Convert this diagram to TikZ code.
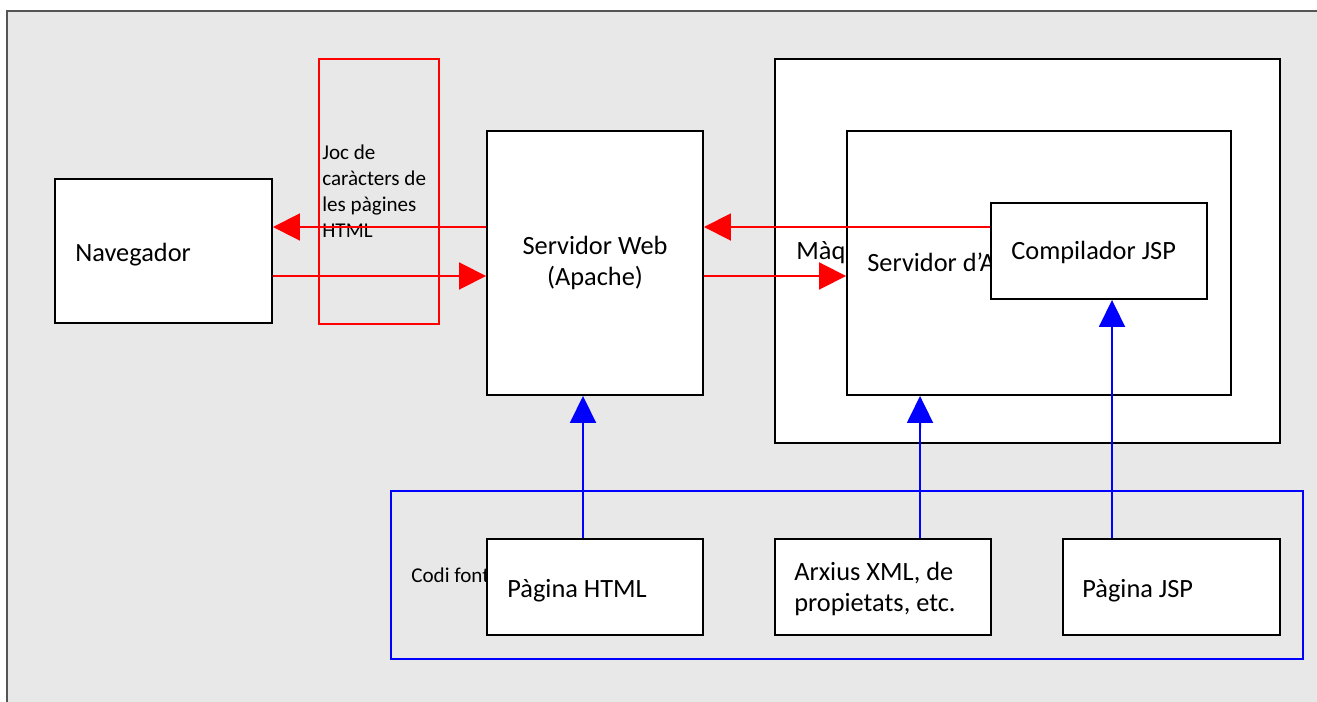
\documentclass[tikz,border=0pt]{standalone}
\usepackage{fontspec}
\setmainfont{Carlito}
\usetikzlibrary{arrows.meta}
\definecolor{framegray}{RGB}{232,232,232}
\definecolor{frameline}{RGB}{85,85,85}
\tikzset{
  box/.style={
    line width=1.1pt,
    inner sep=0pt
  },
  box-black/.style={
    box,
    draw=black,
    fill=white
  },
  box-red/.style={box, draw=red},
  box-blue/.style={box, draw=blue},
  sz/.style 2 args={minimum width=#1*0.02cm, minimum height=#2*0.02cm},
  txt/.style={font=\fontsize{15}{17.5}\selectfont, inner sep=0pt},
  txt-small/.style={font=\fontsize{12}{14.7}\selectfont, inner sep=0pt},
  arrow-red/.style={draw=red, line width=1.1pt, -{Triangle[length=0.54cm, width=0.54cm]}},
  arrow-blue/.style={draw=blue, line width=1.1pt, -{Triangle[length=0.54cm, width=0.52cm]}}
}

\begin{document}
\begin{tikzpicture}[x=0.02cm, y=-0.02cm]
  \useasboundingbox (0,0) rectangle (1317,702);

  % --- Frame ---
  \fill[white] (0,0) rectangle (1317,702);
  \fill[framegray] (7,11) rectangle (1317,702);
  \draw[frameline, line width=1.1pt] (7,702) -- (7,11) -- (1317,11);

  % --- Browser side ---
  \node[box-black, sz={217}{144}] (nav) at (163.5,251) {};
  \node[txt, anchor=base west] (nav-label) at (75,262) {Navegador};

  % Charset note (red)
  \node[box-red, sz={120}{265}] (charset) at (379,191.5) {};
  \node[txt-small, anchor=north west, align=left] (charset-label) at (322,145)
    {Joc de\\caràcters de\\les pàgines\\HTML};

  % --- Web server ---
  \node[box-black, sz={216}{264}, txt, align=center] (web) at (595,263)
    {Servidor Web\\(Apache)};

  % --- Java machine, nested boxes ---
  \node[box-black, sz={505}{384}] (jvm) at (1027.5,251) {};
  \node[txt, anchor=base west] (jvm-label) at (796,260) {Màqu};
  \node[box-black, sz={384}{264}] (appsrv) at (1039,263) {};
  \node[txt, anchor=base west] (appsrv-label) at (867,272) {Servidor d’A};
  \node[box-black, sz={216}{96}] (jspc) at (1099,251) {};
  \node[txt, anchor=base west] (jspc-label) at (1011,260) {Compilador JSP};

  % --- Source code (blue) ---
  \node[box-blue, sz={912}{168}] (src) at (847,575) {};
  \node[txt-small, anchor=base west] (src-label) at (411,582) {Codi font};
  \node[box-black, sz={216}{96}] (html) at (595,587) {};
  \node[txt, anchor=base west] (html-label) at (507,597) {Pàgina HTML};
  \node[box-black, sz={216}{96}] (xml) at (883,587) {};
  \node[txt, anchor=north west, align=left] (xml-label) at (794,562)
    {Arxius XML, de\\propietats, etc.};
  \node[box-black, sz={217}{96}] (jsppage) at (1171.5,587) {};
  \node[txt, anchor=base west] (jsppage-label) at (1082,597) {Pàgina JSP};

  % --- Requests and responses ---
  \draw[arrow-red] ([yshift=0.72cm]web.west) -- ([yshift=0.48cm]nav.east);
  \draw[arrow-red] ([yshift=-0.5cm]nav.east) -- ([yshift=-0.26cm]web.west);
  \draw[arrow-red] ([yshift=0.48cm]jspc.west) -- ([yshift=0.72cm]web.east);
  \draw[arrow-red] ([yshift=-0.26cm]web.east) -- ([yshift=-0.26cm]appsrv.west);

  % --- Deployment of sources ---
  \draw[arrow-blue] ([xshift=-0.24cm]html.north) -- ([xshift=-0.24cm]web.south);
  \draw[arrow-blue] ([xshift=0.74cm]xml.north) -- ([xshift=-2.38cm]appsrv.south);
  \draw[arrow-blue] ([xshift=-1.19cm]jsppage.north) -- ([xshift=0.26cm]jspc.south);
\end{tikzpicture}
\end{document}
